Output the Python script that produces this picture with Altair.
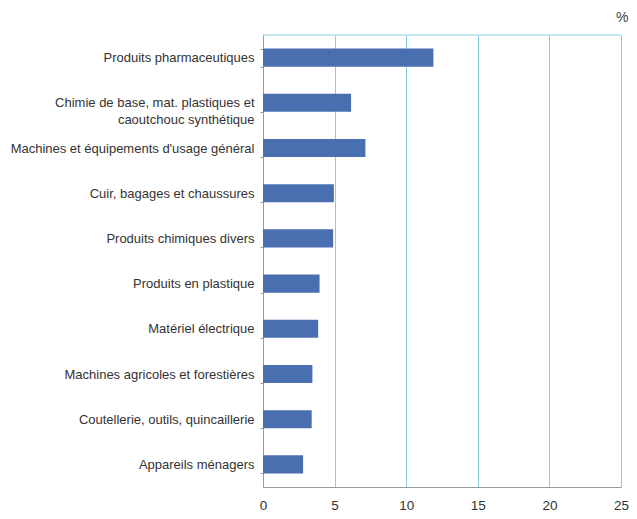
import altair as alt
import pandas as pd

categories = [
    "Produits pharmaceutiques",
    "Chimie de base, mat. plastiques et|caoutchouc synthétique",
    "Machines et équipements d'usage général",
    "Cuir, bagages et chaussures",
    "Produits chimiques divers",
    "Produits en plastique",
    "Matériel électrique",
    "Machines agricoles et forestières",
    "Coutellerie, outils, quincaillerie",
    "Appareils ménagers",
]
values = [11.9, 6.15, 7.15, 4.95, 4.9, 3.95, 3.85, 3.45, 3.4, 2.8]
x_ticks = [0, 5, 10, 15, 20, 25]

df = pd.DataFrame({"cat": categories, "val": values})

FONT = "Liberation Sans"
GRID = "#8ccbe0"

bars = alt.Chart(df).mark_bar(color="#4a6fb1").encode(
    x=alt.X("val:Q", scale=alt.Scale(domain=[0, 25], nice=False),
            axis=alt.Axis(values=x_ticks, title=None, grid=True, gridColor=GRID,
                          gridWidth=1, domainColor="#9a9a9a", ticks=False,
                          labelPadding=11, labelFontSize=13.5, labelColor="#333333",
                          labelFont=FONT, labelFlush=False)),
    y=alt.Y("cat:N", sort=categories,
            scale=alt.Scale(paddingInner=0.6, paddingOuter=0.3),
            axis=alt.Axis(title=None, labelExpr="split(datum.label, '|')",
                          labelFontSize=13, labelColor="#333333", labelFont=FONT,
                          labelLineHeight=17, labelPadding=6, labelLimit=400,
                          domainColor="#9a9a9a", tickColor="#9a9a9a", tickSize=3,
                          tickBand="extent", grid=False)),
)

top = alt.Chart(pd.DataFrame({"a": [0]})).mark_rule(color=GRID).encode(
    x=alt.value(0), x2=alt.value(358), y=alt.value(0)
)

chart = alt.layer(bars, top).properties(
    width=358, height=452,
    title=alt.TitleParams("%", anchor="end", fontSize=14, fontWeight="normal",
                          color="#444444", font=FONT, offset=4),
    padding={"left": 2, "top": 3, "right": 0, "bottom": 0},
).configure_view(stroke=None)

chart.save("out.html", embed_options={"renderer": "svg", "actions": False})
